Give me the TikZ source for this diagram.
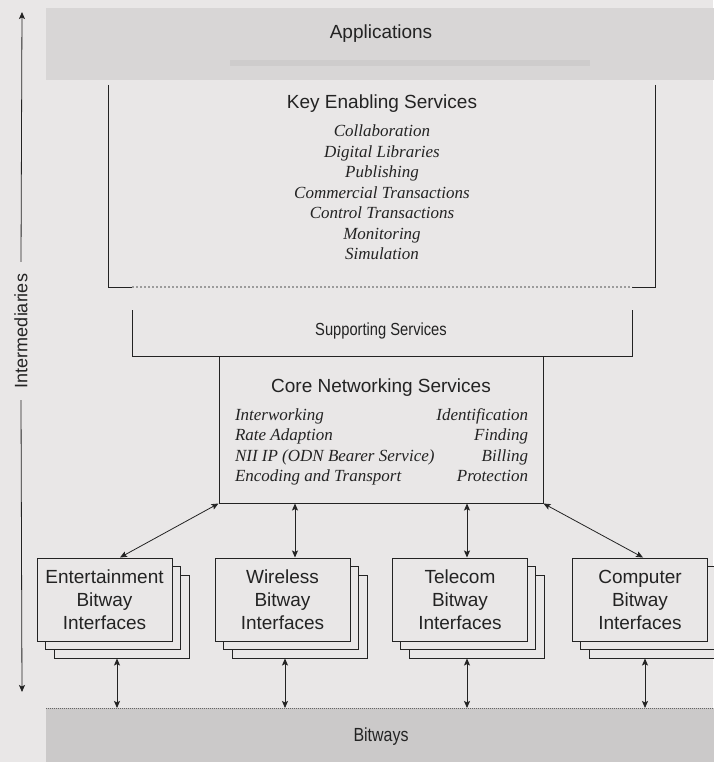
\documentclass[tikz,border=0pt]{standalone}
\usepackage{fontspec}
\setmainfont{Liberation Serif}
\newfontfamily\helv{Liberation Sans}
\newfontfamily\helvnarrow[FakeStretch=0.84]{Liberation Sans}
\usetikzlibrary{arrows.meta,calc}
\definecolor{paper}{RGB}{233,231,231}
\definecolor{bandgray}{RGB}{216,214,214}
\definecolor{basegray}{RGB}{203,201,201}
\definecolor{ink}{RGB}{35,35,35}

\begin{document}
\begin{tikzpicture}[x=1pt,y=-1pt,
  frame/.style={draw=ink,line width=1pt},
  dbl/.style={draw=ink,line width=0.8pt,{Stealth[length=7pt,width=6pt,inset=1.5pt]}-{Stealth[length=7pt,width=6pt,inset=1.5pt]}},
  axis/.style={draw=ink,line width=0.8pt,-{Stealth[length=7pt,width=6pt,inset=1.5pt]}},
  headline/.style={font=\helv\fontsize{19}{22}\selectfont,text=ink,inner sep=0pt},
  itemlist/.style={font=\itshape\fontsize{17}{20.5}\selectfont,text=ink,inner sep=0pt},
  bitbox/.style={draw=ink,line width=1pt,fill=paper,minimum width=135pt,minimum height=83pt,
    inner sep=0pt,align=center,text=ink,font=\helv\fontsize{19}{23}\selectfont},
  band/.style={inner sep=0pt,anchor=north west}
]
\fill[paper] (0,0) rectangle (713,762);
\useasboundingbox (0,0) rectangle (713,762);

% Applications band
\node[band,fill=bandgray,minimum width=674pt,minimum height=72pt] (appband) at (46,8) {};
\fill[ink,opacity=0.05] (230,60) rectangle (590,66);
\node[headline] (apps) at (381,34) {Applications};

% Key enabling services frame
\draw[frame] (108,85) -- (108,287) -- (132,287);
\draw[frame] (655,85) -- (655,287) -- (632,287);
\draw[ink!45,line width=2pt,dotted] (132,287) -- (632,287);
\node[headline] (kes) at (382,104) {Key Enabling Services};
\node[itemlist,align=center] (kesitems) at (382,192.5)
  {Collaboration\\Digital Libraries\\Publishing\\Commercial Transactions\\Control Transactions\\Monitoring\\Simulation};

% Supporting services
\draw[frame] (132,310) -- (132,356) -- (632,356) -- (632,310);
\node[inner sep=0pt,text=ink,font=\helvnarrow\fontsize{17.5}{20}\selectfont] (supp) at (381,331) {Supporting Services};

% Core networking services
\node[frame,minimum width=324pt,minimum height=147pt,inner sep=0pt] (core) at (381,429.5) {};
\node[headline] (coretitle) at (381,388) {Core Networking Services};
\node[itemlist] (coreitems) at (381.5,447)
  {\begin{tabular*}{293pt}{@{}l@{\extracolsep{\fill}}r@{}}
    Interworking & Identification\\
    Rate Adaption & Finding\\
    NII IP (ODN Bearer Service) & Billing\\
    Encoding and Transport & Protection
  \end{tabular*}};

% Bitway interface stacks
\foreach \nm/\cx/\txt in {ent/104.5/{Entertainment\\Bitway\\Interfaces},
                          wir/282.5/{Wireless\\Bitway\\Interfaces},
                          tel/460/{Telecom\\Bitway\\Interfaces},
                          com/640/{Computer\\Bitway\\Interfaces}}{
  \node[bitbox] (\nm-s2) at (\cx+17,616.5) {};
  \node[bitbox] (\nm-s1) at (\cx+8,607.5) {};
  \node[bitbox] (\nm) at (\cx,599.5) {\txt};
}

% Bitways band
\node[band,fill=basegray,minimum width=674pt,minimum height=62pt] (base) at (46,708) {};
\draw[ink!70,line width=1pt,dash pattern=on 1pt off 1pt] (base.north west) -- (base.north east);
\node[inner sep=0pt,text=ink,font=\helvnarrow\fontsize{19}{22}\selectfont] (bitways) at (381,737) {Bitways};

% Connectors between core services and bitway interfaces
\draw[dbl] (core.south west) -- ([xshift=15.5pt]ent.north);
\coordinate (wa) at ([xshift=12.5pt]wir.north);
\draw[dbl] (wa |- core.south) -- (wa);
\coordinate (ta) at ([xshift=7pt]tel.north);
\draw[dbl] (ta |- core.south) -- (ta);
\draw[dbl] (core.south east) -- ([xshift=3pt]com.north);

% Connectors between bitway interfaces and bitways
\coordinate (eb) at ([xshift=12.5pt]ent.south);
\coordinate (wb) at ([xshift=2.5pt]wir.south);
\coordinate (tb) at ([xshift=7pt]tel.south);
\coordinate (cb) at ([xshift=5pt]com.south);
\foreach \c in {eb,wb,tb,cb}{
  \draw[dbl] (\c |- ent-s2.south) -- (\c |- base.north);
}

% Intermediaries axis
\node[rotate=90,inner sep=12pt,text=ink,font=\helv\fontsize{18}{20}\selectfont] (inter) at (21,331) {Intermediaries};
\coordinate (axtop) at (22,12);
\coordinate (axbot) at (22,692);
\draw[axis] (inter.east) -- (axtop);
\draw[axis] (inter.west) -- (axbot);
\end{tikzpicture}
\end{document}
